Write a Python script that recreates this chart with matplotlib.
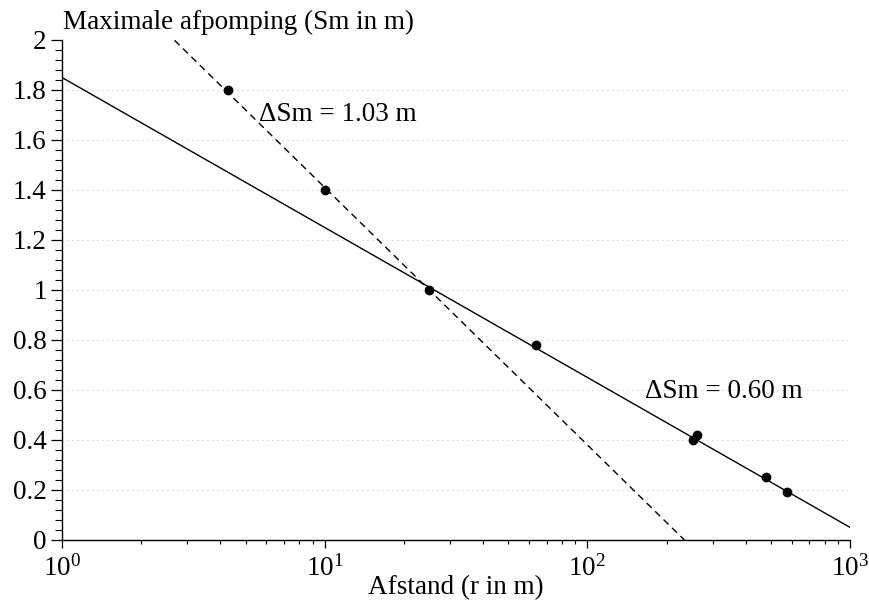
import numpy as np
import matplotlib
matplotlib.use("Agg")
import matplotlib.pyplot as plt
import matplotlib.ticker as ticker

plt.rcParams["font.family"] = ["Liberation Serif", "DejaVu Serif"]
plt.rcParams["mathtext.fontset"] = "stix"

# -----------------------------
# Measured drawdowns
# -----------------------------
afstand = [4.3, 10, 25, 64, 252, 261, 479, 575]
afpomping = [1.80, 1.40, 1.00, 0.78, 0.40, 0.42, 0.25, 0.19]

# Fitted lines: Sm = a - dSm * log10(r)
steep_a, steep_ds = 2.44, 1.03
flat_a, flat_ds = 1.85, 0.60

y_ticks = [0, 0.2, 0.4, 0.6, 0.8, 1, 1.2, 1.4, 1.6, 1.8, 2]
y_tick_labels = ["0", "0.2", "0.4", "0.6", "0.8", "1", "1.2", "1.4", "1.6", "1.8", "2"]

FS = 19.5

fig = plt.figure(figsize=(8.69, 6.06), dpi=100)
ax = fig.add_axes([0.0713, 0.109, 0.907, 0.825])

r = np.logspace(0, 3, 200)
ax.plot(r, flat_a - flat_ds * np.log10(r), color="black", linewidth=1.0)
ax.plot(r, steep_a - steep_ds * np.log10(r), color="black", linewidth=1.0,
        linestyle=(0, (5, 3.5)))
ax.plot(afstand, afpomping, "o", color="black", markersize=6)

ax.set_xscale("log")
ax.set_xlim(1, 1000)
ax.set_ylim(0, 2)

# faint dotted grid
for yv in y_ticks[1:-1]:
    ax.axhline(yv, color="#aaaaaa", linewidth=0.6, linestyle=(0, (1, 5)), zorder=0)

ax.set_yticks(y_ticks)
ax.set_yticklabels(y_tick_labels)
ax.yaxis.set_minor_locator(ticker.MultipleLocator(0.04))
ax.xaxis.set_major_locator(ticker.LogLocator(base=10))
ax.xaxis.set_minor_locator(ticker.LogLocator(base=10, subs=np.arange(2, 10)))
ax.xaxis.set_minor_formatter(ticker.NullFormatter())

ax.tick_params(axis="both", which="major", direction="out", length=8,
               width=0.9, labelsize=FS)
ax.tick_params(axis="y", which="major", pad=3)
ax.tick_params(axis="y", which="minor", direction="out", length=5, width=0.8)
ax.tick_params(axis="x", which="minor", direction="out", length=3, width=0.8)
ax.tick_params(axis="x", which="major", length=6, pad=5)

for side in ["top", "right"]:
    ax.spines[side].set_visible(False)
for side in ["left", "bottom"]:
    ax.spines[side].set_linewidth(1.0)

ax.set_xlabel("Afstand (r in m)", fontsize=FS, labelpad=-5)
fig.text(0.072, 0.963, "Maximale afpomping (Sm in m)", fontsize=FS,
         ha="left", va="center")

ax.text(5.6, 1.70, "ΔSm = 1.03 m", fontsize=FS, ha="left", va="center")
ax.text(165, 0.592, "ΔSm = 0.60 m", fontsize=FS, ha="left", va="center")

fig.savefig("out.png", dpi=100)
